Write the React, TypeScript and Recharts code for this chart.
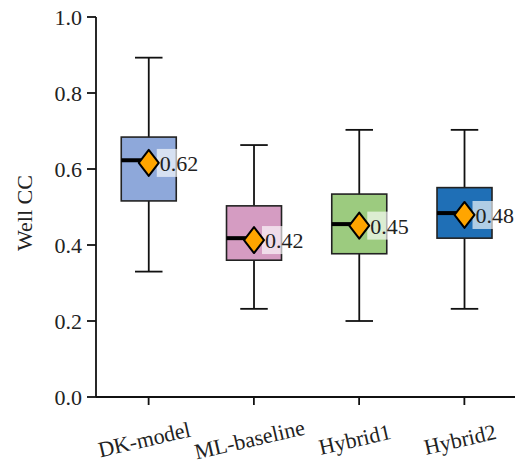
import { ComposedChart, Bar, XAxis, YAxis } from "recharts";

// Box plot of well CC per model. Each box is one range bar [low, high];
// the custom shape maps the other stats through the bar's own pixel span.
const categories = ["DK-model", "ML-baseline", "Hybrid1", "Hybrid2"];
const lowWhisker = [0.33, 0.232, 0.2, 0.232];
const q1 = [0.516, 0.36, 0.377, 0.418];
const median = [0.623, 0.418, 0.455, 0.484];
const q3 = [0.684, 0.503, 0.534, 0.551];
const highWhisker = [0.893, 0.663, 0.703, 0.703];
const means = [0.616, 0.413, 0.451, 0.479];
const meanLabels = ["0.62", "0.42", "0.45", "0.48"];
const boxColors = ["#8ea8da", "#d59cc2", "#9ccb7f", "#1f6fb6"];
const yTicks = [0, 0.2, 0.4, 0.6, 0.8, 1.0];

const FONT = '"Liberation Serif", "Times New Roman", serif';

const data = categories.map((name, i) => ({
  name,
  range: [lowWhisker[i], highWhisker[i]],
  low: lowWhisker[i],
  high: highWhisker[i],
  q1: q1[i],
  median: median[i],
  q3: q3[i],
  mean: means[i],
  label: meanLabels[i],
  color: boxColors[i],
}));

function BoxShape(props: any) {
  const { x, y, width, height } = props;
  const p = props.payload ?? props;
  const py = (v: number) => y + ((p.high - v) / (p.high - p.low)) * height;
  const cx = x + width / 2;
  const capHalf = width / 4;
  const yq3 = py(p.q3);
  const yq1 = py(p.q1);
  const ymed = py(p.median);
  const ymean = py(p.mean);
  const dw = 10;
  const dh = 13;
  return (
    <g>
      <line x1={cx} x2={cx} y1={y} y2={yq3} stroke="#111" strokeWidth={1.8} />
      <line x1={cx} x2={cx} y1={yq1} y2={y + height} stroke="#111" strokeWidth={1.8} />
      <line x1={cx - capHalf} x2={cx + capHalf} y1={y} y2={y} stroke="#111" strokeWidth={1.8} />
      <line
        x1={cx - capHalf}
        x2={cx + capHalf}
        y1={y + height}
        y2={y + height}
        stroke="#111"
        strokeWidth={1.8}
      />
      <rect x={x} y={yq3} width={width} height={yq1 - yq3} fill={p.color} stroke="#222" strokeWidth={1.6} />
      <line x1={x} x2={cx} y1={ymed} y2={ymed} stroke="#000" strokeWidth={4} />
      <rect x={cx + dw - 2} y={ymean - 14} width={46} height={28} fill="#ffffff" fillOpacity={0.65} />
      <polygon
        points={`${cx},${ymean - dh} ${cx + dw},${ymean} ${cx},${ymean + dh} ${cx - dw},${ymean}`}
        fill="#ffa500"
        stroke="#000"
        strokeWidth={2}
        strokeLinejoin="round"
      />
      <text x={cx + dw + 1} y={ymean + 8} fontSize={22} fontFamily={FONT} fill="#222">
        {p.label}
      </text>
    </g>
  );
}

function XTick(props: any) {
  const { x, y, payload } = props;
  return (
    <g transform={`translate(${x - 4},${y + 34})`}>
      <text
        textAnchor="middle"
        transform="rotate(-13)"
        fontSize={22}
        fontFamily={FONT}
        fill="#222"
        dy={6}
      >
        {payload.value}
      </text>
    </g>
  );
}

function YLabel(props: any) {
  const vb = props.viewBox;
  const lx = vb.x + 32;
  const ly = vb.y + vb.height / 2 + 6;
  return (
    <text
      x={lx}
      y={ly}
      transform={`rotate(-90 ${lx} ${ly})`}
      textAnchor="middle"
      fontSize={22}
      fontFamily={FONT}
      fill="#222"
    >
      Well CC
    </text>
  );
}

export default function App() {
  return (
    <div style={{ position: "absolute", left: 0, top: 0, background: "#fff" }}>
      <ComposedChart
        width={515}
        height={463}
        data={data}
        margin={{ top: 17, right: -2, bottom: 0, left: 0 }}
        barCategoryGap="24%"
      >
        <XAxis
          dataKey="name"
          height={66}
          tick={<XTick />}
          tickSize={8}
          axisLine={{ stroke: "#111", strokeWidth: 1.8 }}
          tickLine={{ stroke: "#111", strokeWidth: 1.8 }}
          interval={0}
        />
        <YAxis
          width={96}
          domain={[0, 1]}
          ticks={yTicks}
          tickFormatter={(v: number) => v.toFixed(1)}
          tickSize={9}
          tickMargin={5}
          tick={{ fontSize: 22, fontFamily: FONT, fill: "#222" }}
          axisLine={{ stroke: "#111", strokeWidth: 1.8 }}
          tickLine={{ stroke: "#111", strokeWidth: 1.8 }}
          label={<YLabel />}
        />
        <Bar dataKey="range" shape={<BoxShape />} isAnimationActive={false} />
      </ComposedChart>
    </div>
  );
}
